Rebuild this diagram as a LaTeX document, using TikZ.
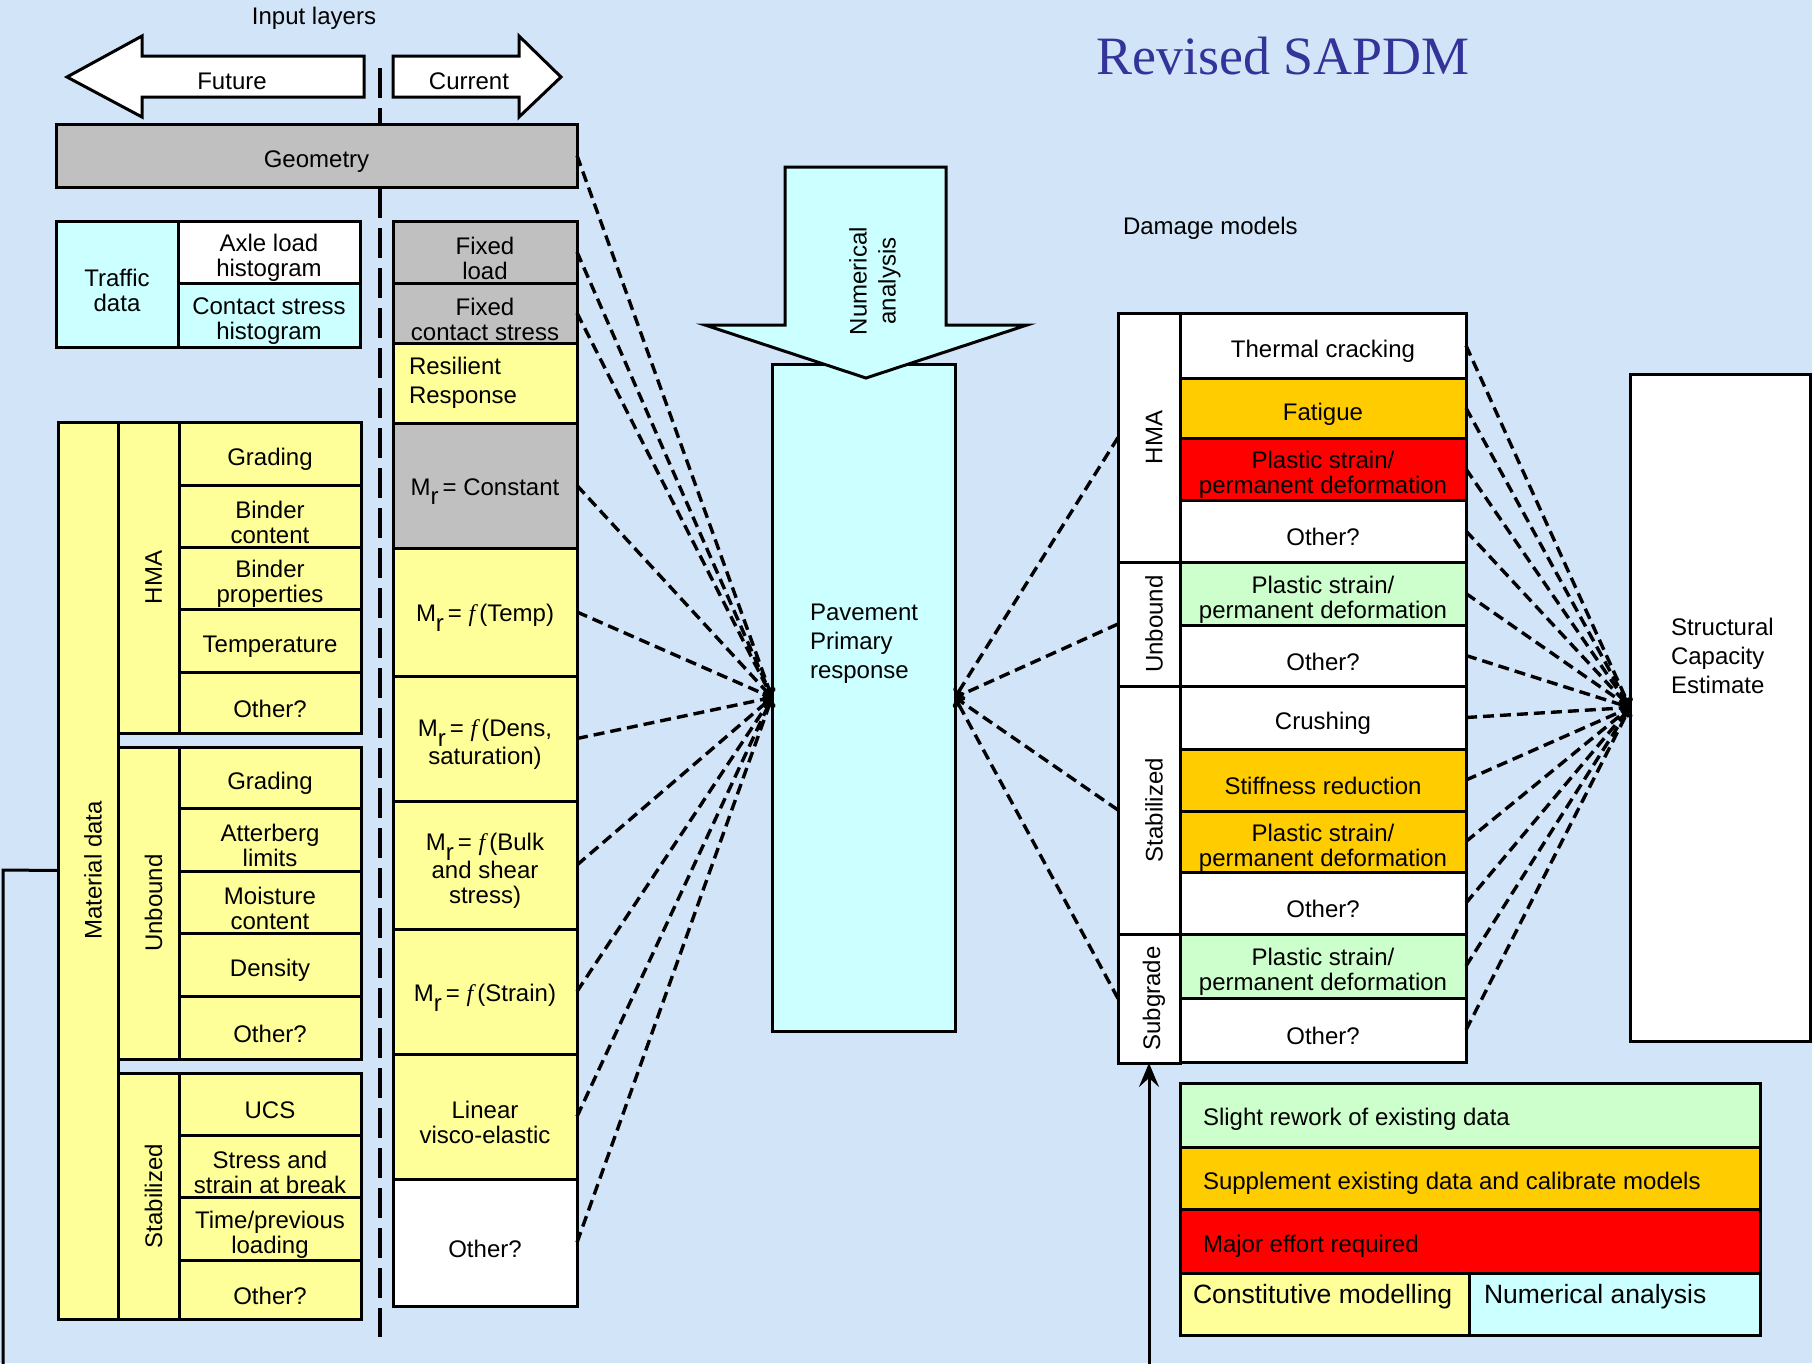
\documentclass[tikz,border=0pt]{standalone}
\usepackage{fontspec}
\setmainfont{Liberation Sans}
\newfontfamily\serifff{Liberation Serif}
\usetikzlibrary{arrows.meta}
\definecolor{bg}{RGB}{210,228,248}
\definecolor{yel}{RGB}{255,255,153}
\definecolor{gry}{RGB}{192,192,192}
\definecolor{cyn}{RGB}{204,255,255}
\definecolor{grn}{RGB}{204,255,204}
\definecolor{org}{RGB}{255,204,0}
\definecolor{rd}{RGB}{255,0,0}
\definecolor{ttl}{RGB}{51,51,153}
\newcommand{\Mr}{M\raisebox{-0.4em}{r}}
\newcommand{\ff}{{\serifff\itshape f}}
\newcommand{\bxe}[6]{\node[box,fill=#6,minimum width={(#4)-(#2)},minimum height={(#5)-(#3)}] (#1) at (#2,#3) {};}
\newcommand{\bx}[7]{\bxe{#1}{#2}{#3}{#4}{#5}{#6}\node[align=center] (#1t) at ([yshift=-6pt]#1.center) {#7};}
\begin{document}
\begin{tikzpicture}[x=1pt,y=-1pt,
  every node/.style={font=\fontsize{24}{25}\selectfont, inner sep=0pt, outer sep=0pt},
  box/.style={draw, line width=3pt, anchor=north west},
  conn/.style={line width=3.4pt, dash pattern=on 11pt off 6pt, -{To[length=9pt,width=13pt]}},
  vdash/.style={line width=4.5pt, dash pattern=on 30pt off 10pt},
  bigarrow/.style={draw, line width=3pt, fill=white},
  solidline/.style={line width=3pt},
  wide/.style={font=\fontsize{24}{29}\selectfont, align=left},
  vlabel/.style={rotate=90}
]
\fill[bg] (0,0) rectangle (1812,1363);
\useasboundingbox (0,0) rectangle (1812,1363);

% header
\node (inlay) at (314,18) {Input layers};
\draw[bigarrow] (67,77) -- (142,36) -- (142,56) -- (364,56) -- (364,97) -- (142,97) -- (142,117) -- cycle;
\node (future) at (232,81) {Future};
\draw[bigarrow] (393,56) -- (519,56) -- (519,36) -- (561,77) -- (519,117) -- (519,97) -- (393,97) -- cycle;
\node (current) at (469,81) {Current};
\coordinate (vtop) at (380,68);
\coordinate (vbot) at (380,1337);
\draw[vdash] (vtop) -- (vbot);

% geometry and traffic
\bx{geom}{56}{124}{577}{187}{gry}{Geometry}
\bx{traffic}{56}{221}{178}{347}{cyn}{Traffic\\data}
\bx{axle}{178}{221}{360}{283}{white}{Axle load\\histogram}
\bx{contact}{178}{283}{360}{347}{cyn}{Contact stress\\histogram}

% current column
\bx{fixload}{393}{221}{577}{283}{gry}{Fixed\\load}
\bx{fixcs}{393}{283}{577}{343}{gry}{Fixed\\contact stress}
\bxe{resil}{393}{343}{577}{423}{yel}
\node[wide, anchor=west] (resilT) at (409,383) {Resilient\\Response};
\bx{mrc}{393}{423}{577}{548}{gry}{\Mr\,= Constant}
\bx{mrt}{393}{548}{577}{676}{yel}{\Mr\,= \ff\,(Temp)}
\bx{mrd}{393}{676}{577}{801}{yel}{\Mr\,= \ff\,(Dens,\\saturation)}
\bx{mrb}{393}{801}{577}{929}{yel}{\Mr\,= \ff\,(Bulk\\and shear\\stress)}
\bx{mrs}{393}{929}{577}{1054}{yel}{\Mr\,= \ff\,(Strain)}
\bx{lve}{393}{1054}{577}{1179}{yel}{Linear\\visco-elastic}
\bx{oth}{393}{1179}{577}{1306}{white}{Other?}

% material data
\bxe{matdata}{58}{422}{118}{1319}{yel}
\node[vlabel] (matdataL) at ([xshift=5pt]matdata.center) {Material data};
\bxe{hma}{118}{422}{179}{733}{yel}
\node[vlabel] (hmaL) at ([xshift=5pt]hma.center) {HMA};
\bx{hg}{179}{422}{361}{485}{yel}{Grading}
\bx{hbc}{179}{485}{361}{547}{yel}{Binder\\content}
\bx{hbp}{179}{547}{361}{609}{yel}{Binder\\properties}
\bx{htemp}{179}{609}{361}{672}{yel}{Temperature}
\bx{hoth}{179}{672}{361}{733}{yel}{Other?}
\bxe{unb}{118}{747}{179}{1059}{yel}
\node[vlabel] (unbL) at ([xshift=5pt]unb.center) {Unbound};
\bx{ug}{179}{747}{361}{808}{yel}{Grading}
\bx{ual}{179}{808}{361}{871}{yel}{Atterberg\\limits}
\bx{umc}{179}{871}{361}{933}{yel}{Moisture\\content}
\bx{uden}{179}{933}{361}{996}{yel}{Density}
\bx{uoth}{179}{996}{361}{1059}{yel}{Other?}
\bxe{stab}{118}{1073}{179}{1319}{yel}
\node[vlabel] (stabL) at ([xshift=5pt]stab.center) {Stabilized};
\bx{sucs}{179}{1073}{361}{1135}{yel}{UCS}
\bx{sss}{179}{1135}{361}{1197}{yel}{Stress and\\strain at break}
\bx{stp}{179}{1197}{361}{1260}{yel}{Time/previous\\loading}
\bx{soth}{179}{1260}{361}{1319}{yel}{Other?}

% material line
\coordinate (mlc) at (3,870);
\coordinate (mlb) at (3,1370);
\draw[solidline] (matdata.west) -- (mlc) -- (mlb);

% pavement
\bxe{pav}{772}{364}{955}{1031}{cyn}
\node[wide, anchor=west] (pavT) at (810,644) {Pavement\\Primary\\response};
\draw[line width=3pt, fill=cyn] (785,167) -- (946,167) -- (946,325) -- (1027,325) -- (866,378) -- (705,325) -- (785,325) -- cycle;
\node[vlabel, align=center, font=\fontsize{24}{29}\selectfont] (numT) at (875,281) {Numerical\\analysis};

% title
\node[font=\serifff\fontsize{54}{60}\selectfont, text=ttl] (title) at (1283,56) {Revised SAPDM};
\node[anchor=west] (dmg) at (1123,228) {Damage models};

% damage models
\bxe{dhma}{1118}{313}{1180}{562}{white}
\node[vlabel] (dhmaL) at ([xshift=5pt]dhma.center) {HMA};
\bx{d1}{1180}{313}{1466}{378}{white}{Thermal cracking}
\bx{d2}{1180}{378}{1466}{438}{org}{Fatigue}
\bx{d3}{1180}{438}{1466}{500}{rd}{Plastic strain/\\permanent deformation}
\bx{d4}{1180}{500}{1466}{562}{white}{Other?}
\bxe{dunb}{1118}{562}{1180}{686}{white}
\node[vlabel] (dunbL) at ([xshift=5pt]dunb.center) {Unbound};
\bx{d5}{1180}{562}{1466}{625}{grn}{Plastic strain/\\permanent deformation}
\bx{d6}{1180}{625}{1466}{686}{white}{Other?}
\bxe{dstab}{1118}{686}{1180}{934}{white}
\node[vlabel] (dstabL) at ([xshift=5pt]dstab.center) {Stabilized};
\bx{d7}{1180}{686}{1466}{749}{white}{Crushing}
\bx{d8}{1180}{749}{1466}{811}{org}{Stiffness reduction}
\bx{d9}{1180}{811}{1466}{872}{org}{Plastic strain/\\permanent deformation}
\bx{d10}{1180}{872}{1466}{934}{white}{Other?}
\bxe{dsub}{1118}{934}{1180}{1063}{white}
\node[vlabel] (dsubL) at ([xshift=5pt]dsub.center) {Subgrade};
\bx{d11}{1180}{934}{1466}{998}{grn}{Plastic strain/\\permanent deformation}
\bx{d12}{1180}{998}{1466}{1062}{white}{Other?}

% structural capacity
\bxe{sce}{1630}{374}{1810}{1041}{white}
\node[wide, anchor=west] (sceT) at (1671,656) {Structural\\Capacity\\Estimate};

% legend
\bxe{l1}{1180}{1083}{1760}{1147}{grn}
\bxe{l2}{1180}{1147}{1760}{1209}{org}
\bxe{l3}{1180}{1209}{1760}{1273}{rd}
\bxe{l4a}{1180}{1273}{1469}{1335}{yel}
\bxe{l4b}{1469}{1273}{1760}{1335}{cyn}
\node[anchor=west] (l1t) at (1203,1119) {Slight rework of existing data};
\node[anchor=west] (l2t) at (1203,1183) {Supplement existing data and calibrate models};
\node[anchor=west] (l3t) at (1203,1246) {Major effort required};
\node[anchor=west, font=\fontsize{26.5}{28}\selectfont] (l4at) at (1193,1297) {Constitutive modelling};
\node[anchor=west, font=\fontsize{26.5}{28}\selectfont] (l4bt) at (1484,1297) {Numerical analysis};

% subgrade arrow
\coordinate (sgb) at (1149,1370);
\draw[solidline, -{Stealth[length=24pt,width=20pt,inset=9pt]}] (sgb) -- (dsub.south);

% connectors
\foreach \n in {geom,fixload,fixcs,mrc,mrt,mrd,mrb,mrs,lve,oth}
  \draw[conn] (\n.east) -- (pav.west);
\foreach \n in {dhma,dunb,dstab,dsub}
  \draw[conn] (\n.west) -- (pav.east);
\foreach \n in {d1,d2,d3,d4,d5,d6,d7,d8,d9,d10,d11,d12}
  \draw[conn] (\n.east) -- (sce.west);
\end{tikzpicture}
\end{document}
